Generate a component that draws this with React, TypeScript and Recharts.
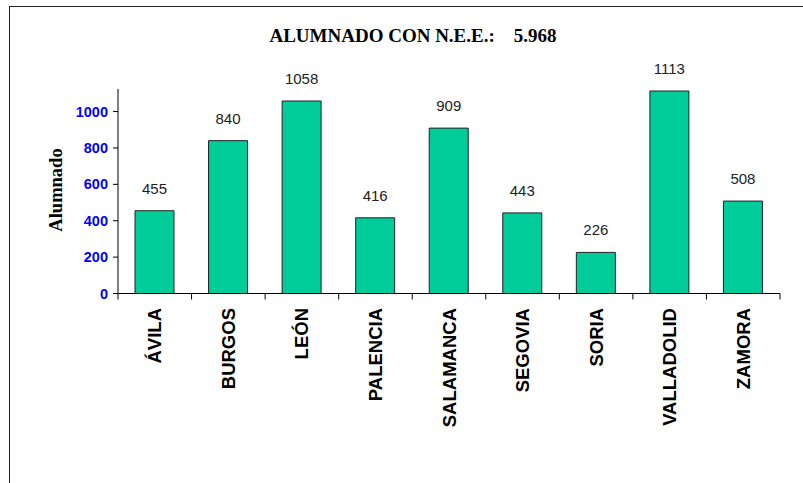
import React from "react";
import { Bar, BarChart, LabelList, XAxis, YAxis } from "recharts";

const provinces = ["ÁVILA", "BURGOS", "LEÓN", "PALENCIA", "SALAMANCA", "SEGOVIA", "SORIA", "VALLADOLID", "ZAMORA"];
const alumnado = [455, 840, 1058, 416, 909, 443, 226, 1113, 508];
const yTicks = [0, 200, 400, 600, 800, 1000];

const W = 803;
const H = 483;
const M = { top: 89, right: 23, left: 0, bottom: 0 };
const Y_AXIS_W = 118;
const X_AXIS_H = 189.5;

const data = provinces.map((name, i) => ({ name, alumnado: alumnado[i] }));
const band = (W - Y_AXIS_W - M.right) / provinces.length;

function ProvinceTick(props: any) {
  const { x, y, payload, index } = props;
  const axisY = y - 8;
  const top = axisY + 14.5;
  return (
    <g>
      <line x1={x - band / 2} x2={x - band / 2} y1={axisY} y2={axisY + 6} stroke="#000" />
      {index === provinces.length - 1 && (
        <line x1={x + band / 2} x2={x + band / 2} y1={axisY} y2={axisY + 6} stroke="#000" />
      )}
      <text
        x={x}
        y={top}
        transform={`rotate(-90, ${x}, ${top})`}
        textAnchor="end"
        dominantBaseline="central"
        fontFamily="Arial, 'Liberation Sans', sans-serif"
        fontWeight="bold"
        fontSize={18.5}
        fill="#000"
      >
        {payload.value}
      </text>
    </g>
  );
}

export default function App() {
  return (
    <div style={{ position: "absolute", left: 0, top: 0, width: W, height: H, overflow: "hidden", background: "#fff" }}>
      <div
        style={{
          position: "absolute",
          left: 9,
          top: 6,
          width: W,
          height: H,
          border: "1px solid #222",
          boxSizing: "border-box",
        }}
      />
      <div
        style={{
          position: "absolute",
          left: 0,
          width: 826,
          top: 25,
          textAlign: "center",
          fontFamily: "'Times New Roman', 'Liberation Serif', serif",
          fontWeight: "bold",
          fontSize: 19,
          whiteSpace: "pre",
          color: "#000",
        }}
      >
        {"ALUMNADO CON N.E.E.:    5.968"}
      </div>
      <div
        style={{
          position: "absolute",
          left: 56,
          top: 190,
          transform: "translate(-50%, -50%) rotate(-90deg)",
          fontFamily: "'Times New Roman', 'Liberation Serif', serif",
          fontWeight: "bold",
          fontSize: 18.5,
          color: "#000",
          whiteSpace: "nowrap",
        }}
      >
        Alumnado
      </div>
      <div style={{ position: "absolute", left: 0, top: 0 }}>
        <BarChart width={W} height={H} data={data} margin={M}>
          <XAxis
            dataKey="name"
            height={X_AXIS_H}
            axisLine={{ stroke: "#000" }}
            tickLine={false}
            interval={0}
            tick={<ProvinceTick />}
          />
          <YAxis
            width={Y_AXIS_W}
            domain={[0, 1124]}
            ticks={yTicks}
            axisLine={{ stroke: "#000" }}
            tickLine={{ stroke: "#000" }}
            tickSize={5}
            tickMargin={5}
            tick={{ fill: "#0000ff", fontSize: 14.5, fontWeight: "bold", fontFamily: "Arial, 'Liberation Sans', sans-serif" }}
          />
          <Bar dataKey="alumnado" fill="#00cc99" stroke="#222" strokeWidth={1} barSize={39} isAnimationActive={false}>
            <LabelList
              dataKey="alumnado"
              position="top"
              offset={17}
              fill="#222"
              fontSize={15}
              fontFamily="Arial, 'Liberation Sans', sans-serif"
            />
          </Bar>
        </BarChart>
      </div>
    </div>
  );
}
